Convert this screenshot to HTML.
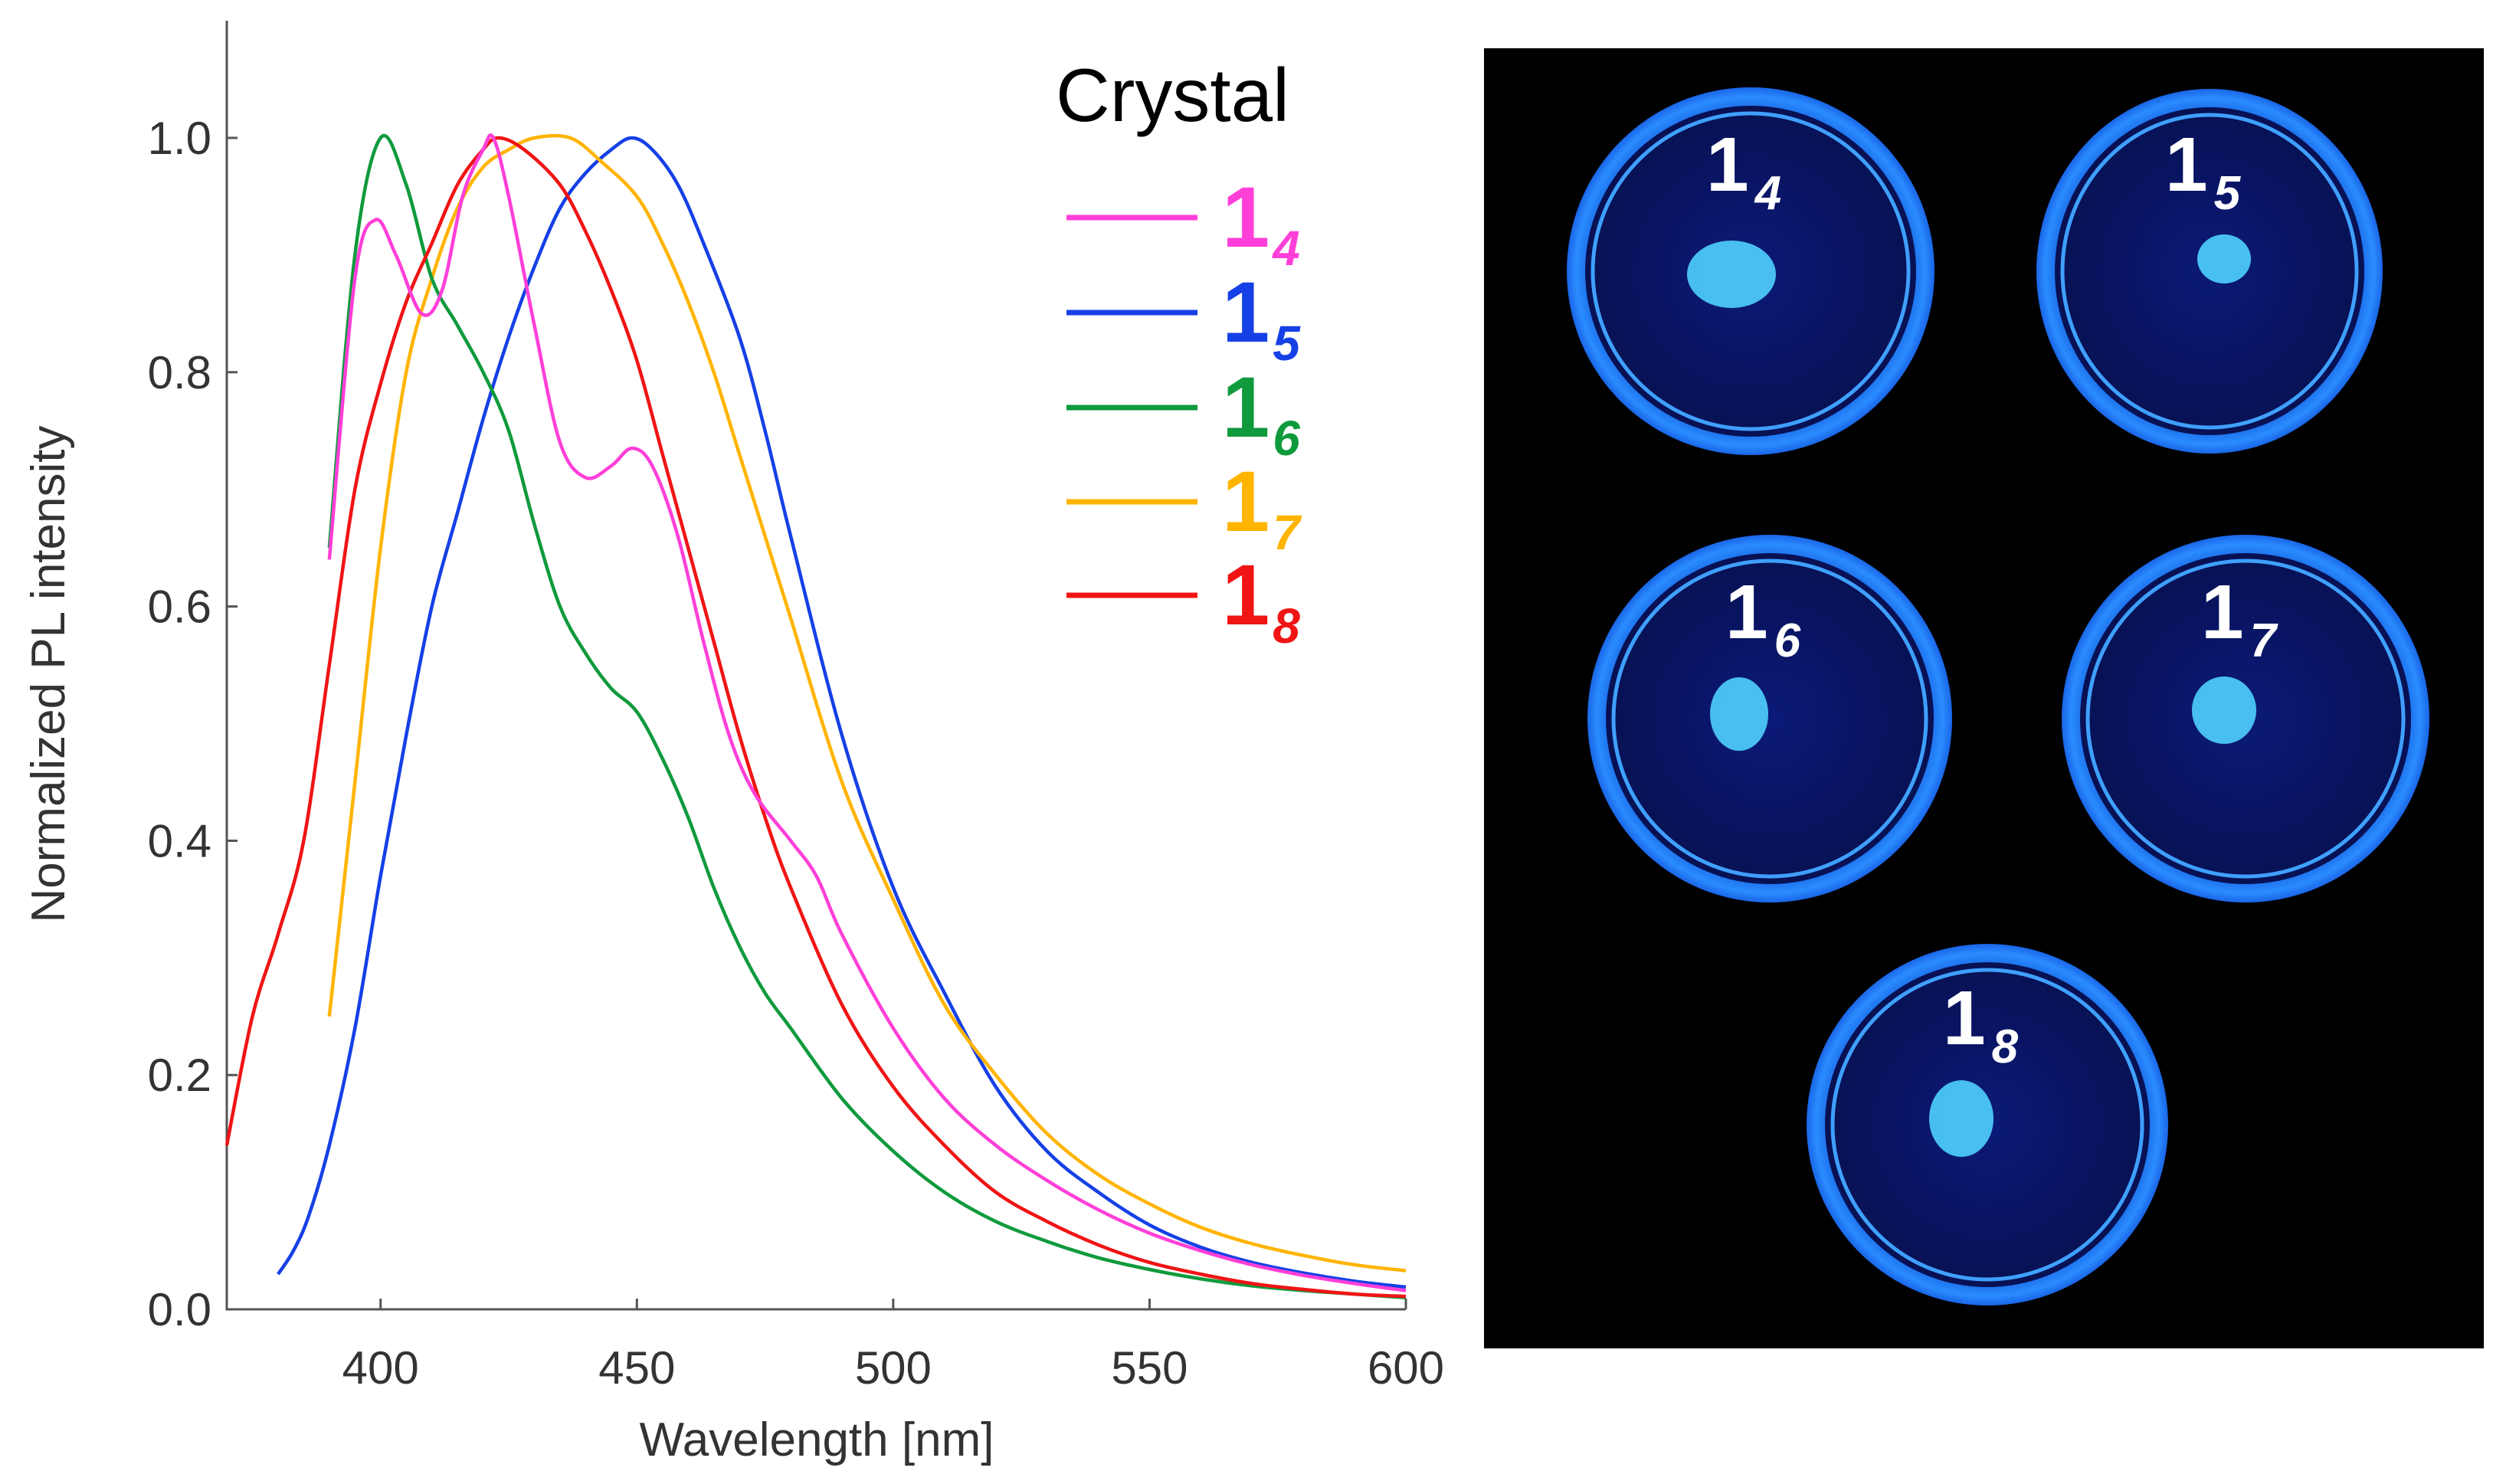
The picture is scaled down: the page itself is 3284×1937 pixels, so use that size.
<!DOCTYPE html>
<html><head><meta charset="utf-8"><style>
html,body{margin:0;padding:0;background:#fff;width:3284px;height:1937px;overflow:hidden}
svg{display:block}
text{font-family:"Liberation Sans",Helvetica,Arial,sans-serif}
</style></head><body>
<svg id="fig" width="3284" height="1937" viewBox="0 0 3284 1937" xmlns="http://www.w3.org/2000/svg">
<defs>
  <radialGradient id="dishIn" cx="50%" cy="50%" r="55%"><stop offset="0" stop-color="#0b1a78"/><stop offset="1" stop-color="#071050"/></radialGradient>
  <radialGradient id="rim" cx="50%" cy="50%" r="50%"><stop offset="0.85" stop-color="#1560e0"/><stop offset="0.95" stop-color="#2a8cff"/><stop offset="1" stop-color="#1a66e8"/></radialGradient>
</defs>
<g id="chart"></g>
<g id="photo">
  <rect x="1937" y="63" width="1305" height="1697" fill="#000"/>
</g>
</svg>
<script>
const wl14=[390,395,399,403,408,412,416,420,422,425,430,435,440,445,449,453,458,463,468,473,480,485,490,500,510,520,530,540,550,560,570,580,590,600];
const v14=[0.64,0.88,0.93,0.90,0.85,0.87,0.95,0.99,1.0,0.95,0.84,0.74,0.71,0.72,0.735,0.72,0.66,0.57,0.49,0.44,0.40,0.37,0.32,0.24,0.18,0.14,0.11,0.085,0.065,0.05,0.038,0.029,0.022,0.016];
const wl15=[380,383,386,390,395,400,405,410,415,420,425,430,435,440,445,449,453,458,463,470,475,480,490,500,510,520,530,540,550,560,570,580,590,600];
const v15=[0.03,0.05,0.08,0.14,0.24,0.37,0.49,0.60,0.68,0.76,0.83,0.89,0.94,0.97,0.99,1.0,0.99,0.96,0.91,0.83,0.75,0.66,0.49,0.36,0.27,0.19,0.135,0.10,0.072,0.053,0.04,0.031,0.024,0.019];
const wl16=[390,395,400,405,410,415,420,425,430,435,440,445,450,455,460,465,470,475,480,490,500,510,520,530,540,550,560,570,580,590,600];
const v16=[0.65,0.9,1.0,0.96,0.88,0.84,0.80,0.75,0.67,0.60,0.56,0.53,0.51,0.47,0.42,0.36,0.31,0.27,0.24,0.18,0.135,0.10,0.075,0.058,0.044,0.034,0.026,0.02,0.016,0.013,0.01];
const wl17=[390,395,400,405,410,415,420,425,430,437,443,450,455,460,465,470,475,480,490,500,510,520,530,540,550,560,570,580,590,600];
const v17=[0.25,0.45,0.65,0.80,0.88,0.94,0.975,0.99,1.0,1.0,0.98,0.95,0.91,0.86,0.80,0.73,0.66,0.59,0.45,0.35,0.26,0.20,0.15,0.115,0.09,0.07,0.056,0.046,0.038,0.033];
const wl18=[370,375,380,385,390,395,400,405,410,415,420,423,428,435,440,445,450,455,460,465,470,475,480,490,500,510,520,530,540,550,560,570,580,590,600];
const v18=[0.14,0.25,0.32,0.40,0.55,0.70,0.79,0.86,0.91,0.96,0.99,1.0,0.99,0.96,0.92,0.87,0.81,0.73,0.65,0.57,0.49,0.42,0.36,0.26,0.19,0.14,0.10,0.075,0.055,0.04,0.03,0.022,0.017,0.013,0.011];
const xTicks=[400,450,500,550,600];
const yTicks=[0.0,0.2,0.4,0.6,0.8,1.0];
const seriesNames=["4","5","6","7","8"];
const seriesColors=["#ff3fd8","#1540e6","#0f9a3c","#ffb400","#f01414"];

const NS="http://www.w3.org/2000/svg";
const X0=296,X1=1835,Y0=1709,Y1=180;
const sx=w=>X0+(w-370)*(X1-X0)/230;
const sy=v=>Y0-v*(Y0-Y1);
const chart=document.getElementById('chart');
function mk(tag,attrs,parent){const e=document.createElementNS(NS,tag);for(const k in attrs)e.setAttribute(k,attrs[k]);(parent||chart).appendChild(e);return e;}

let ax=mk('path',{d:`M${X0},27 V${Y0} H${X1}`,fill:'none',stroke:'#555',"stroke-width":3});


xTicks.forEach(t=>{
  const tk=mk('line',{x1:sx(t),x2:sx(t),y1:Y0,y2:Y0-14,stroke:'#555',"stroke-width":3});
  
  
  const lb=mk('text',{x:sx(t),y:Y0+97,"text-anchor":"middle","font-size":60,fill:'#333'});lb.textContent=t;
  
  
});
yTicks.forEach(t=>{
  const tk=mk('line',{x1:X0,x2:X0+14,y1:sy(t),y2:sy(t),stroke:'#555',"stroke-width":3});
  
  
  const lb=mk('text',{x:X0-20,y:sy(t)+21,"text-anchor":"end","font-size":60,fill:'#333'});lb.textContent=t.toFixed(1);
  
  
});
const xt=mk('text',{x:1066,y:1900,"text-anchor":"middle","font-size":62,fill:'#333'});xt.textContent="Wavelength [nm]";


const yt=mk('text',{x:0,y:0,transform:"translate(84,880) rotate(-90)","text-anchor":"middle","font-size":62,fill:'#333'});yt.textContent="Normalized PL intensity";



function smooth(xs,ys){
  const p=xs.map((w,i)=>[sx(w),sy(ys[i])]);
  let d=`M${p[0][0]},${p[0][1]}`;
  for(let i=0;i<p.length-1;i++){
    const a=p[Math.max(0,i-1)],b=p[i],c=p[i+1],e=p[Math.min(p.length-1,i+2)];
    d+=` C${b[0]+(c[0]-a[0])/6},${b[1]+(c[1]-a[1])/6} ${c[0]-(e[0]-b[0])/6},${c[1]-(e[1]-b[1])/6} ${c[0]},${c[1]}`;
  }
  return d;
}
const data=[[wl15,v15],[wl17,v17],[wl16,v16],[wl18,v18],[wl14,v14]];
const idx=[1,3,2,4,0];
data.forEach((s,j)=>{
  const i=idx[j];
  const pth=mk('path',{d:smooth(s[0],s[1]),fill:'none',stroke:seriesColors[i],"stroke-width":4.5,"stroke-linejoin":"round"});
  
  
});
const lt=mk('text',{x:1378,y:158,"font-size":98,fill:'#000'});lt.textContent="Crystal";


const LY=[284,408,532,655,777];
seriesNames.forEach((n,i)=>{
  const g=mk('g',{});
  
  
  mk('line',{x1:1392,x2:1563,y1:LY[i],y2:LY[i],stroke:seriesColors[i],"stroke-width":7},g);
  const t=mk('text',{x:1595,y:LY[i]+38,"font-size":112,"font-weight":"bold",fill:seriesColors[i]},g);
  t.textContent="1";
  const sub=mk('tspan',{dx:4,dy:24,"font-size":64,"font-style":"italic"},t);sub.textContent=n;
});

const photo=document.getElementById('photo');
const dishes=[[2285,354,240,240,"4"],[2884,354,226,238,"5"],[2310,938,238,240,"6"],[2931,938,240,240,"7"],[2594,1468,236,236,"8"]];
const blobs=[[2260,358,58,44],[2903,338,35,32],[2270,932,38,48],[2903,927,42,44],[2560,1460,42,50]];
dishes.forEach((d,i)=>{
  const g=document.createElementNS(NS,'g');photo.appendChild(g);
  
  
  mk('ellipse',{cx:d[0],cy:d[1],rx:d[2],ry:d[3],fill:'url(#rim)'},g);
  mk('ellipse',{cx:d[0],cy:d[1],rx:d[2]-24,ry:d[3]-24,fill:'url(#dishIn)'},g);
  mk('ellipse',{cx:d[0],cy:d[1],rx:d[2]-34,ry:d[3]-34,fill:'none',stroke:'#3fa0ff',"stroke-width":5},g);
  mk('ellipse',{cx:blobs[i][0],cy:blobs[i][1],rx:blobs[i][2],ry:blobs[i][3],fill:'#4fd0ff',opacity:0.9},g);
  const t=mk('text',{x:d[0]-58,y:d[1]-105,"font-size":100,"font-weight":"bold",fill:'#fff'},g);t.textContent="1";
  const s=mk('tspan',{dx:8,dy:24,"font-size":62,"font-style":"italic"},t);s.textContent=d[4];
});
</script>
</body></html>
